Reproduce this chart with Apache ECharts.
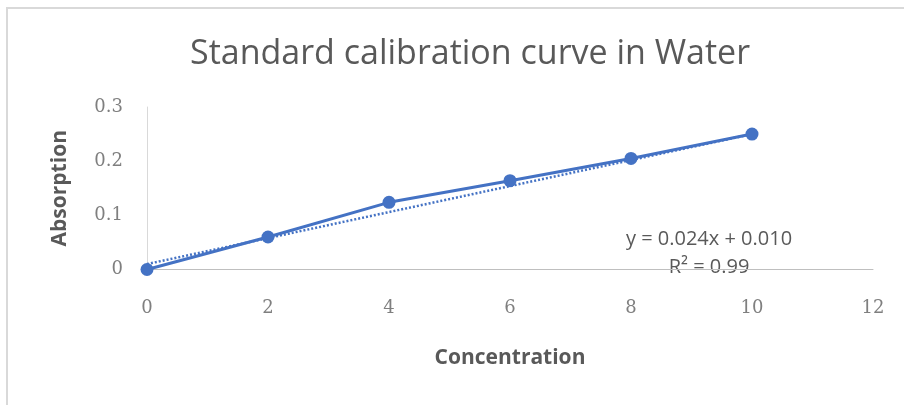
<!DOCTYPE html>
<html>
<head>
<meta charset="utf-8">
<script src="https://cdn.jsdelivr.net/npm/echarts@6/dist/echarts.min.js"></script>
<style>
  html, body { margin: 0; padding: 0; background: #fff; }
  #chart { width: 904px; height: 405px; }
</style>
</head>
<body>
<div id="chart"></div>
<script>
    // values
    const concentration = [0, 2, 4, 6, 8, 10]
    const absorption = [0, 0.060, 0.124, 0.164, 0.205, 0.250]
    // linear trend line y = 0.024x + 0.010, end points
    const trendX = [0, 10]
    const trendY = [0.010, 0.250]
    const equationText = 'y = 0.024x + 0.010'
    const r2Text = 'R² = 0.99'

    const font = 'Open Sans'
    const tickFont = 'DejaVu Serif'
    const blue = '#4472c4'

    let chart = echarts.init(document.getElementById('chart'))
    let option = {
        backgroundColor: '#fff',
        animation: false,
        title: {
            text: 'Standard calibration curve in Water',
            left: 185,
            top: 32,
            textStyle: {
                color: '#595959',
                fontFamily: font,
                fontWeight: 'normal',
                fontSize: 34
            }
        },
        grid: {
            left: 147,
            right: 31,
            top: 107,
            bottom: 135.5
        },
        xAxis: {
            type: 'value',
            min: 0,
            max: 12,
            interval: 2,
            name: 'Concentration',
            nameLocation: 'middle',
            nameGap: 78,
            nameTextStyle: {
                color: '#595959',
                fontFamily: font,
                fontWeight: 'bold',
                fontSize: 21
            },
            axisLine: { lineStyle: { color: '#bfbfbf', width: 1 } },
            axisTick: { show: false },
            splitLine: { show: false },
            axisLabel: {
                color: '#7f7f7f',
                fontFamily: tickFont,
                fontSize: 18,
                margin: 30
            }
        },
        yAxis: {
            type: 'value',
            min: 0,
            max: 0.3,
            interval: 0.1,
            name: 'Absorption',
            nameLocation: 'middle',
            nameGap: 76,
            nameTextStyle: {
                color: '#595959',
                fontFamily: font,
                fontWeight: 'bold',
                fontSize: 21
            },
            axisLine: { show: true, lineStyle: { color: '#d9d9d9', width: 1 } },
            axisTick: { show: false },
            splitLine: { show: false },
            axisLabel: {
                color: '#7f7f7f',
                fontFamily: tickFont,
                fontSize: 18,
                margin: 24
            }
        },
        series: [{
            type: 'line',
            data: trendX.map((x, i) => [x, trendY[i]]),
            symbol: 'none',
            lineStyle: { color: blue, width: 2.5, type: [2, 2] },
            z: 3
        }, {
            type: 'line',
            data: concentration.map((x, i) => [x, absorption[i]]),
            symbol: 'circle',
            symbolSize: 13,
            itemStyle: { color: blue },
            lineStyle: { color: blue, width: 3 },
            z: 4
        }],
        graphic: [{
            type: 'rect',
            shape: { x: 7, y: 8, width: 1000, height: 500 },
            style: { fill: 'none', stroke: '#d9d9d9', lineWidth: 2 },
            silent: true
        }, {
            type: 'text',
            x: 709,
            y: 239,
            style: {
                text: equationText,
                fill: '#595959',
                font: '20px "' + font + '"',
                align: 'center',
                verticalAlign: 'middle'
            }
        }, {
            type: 'text',
            x: 709,
            y: 267,
            style: {
                text: r2Text,
                fill: '#595959',
                font: '20px "' + font + '"',
                align: 'center',
                verticalAlign: 'middle'
            }
        }]
    }
    chart.setOption(option)
</script>
</body>
</html>
